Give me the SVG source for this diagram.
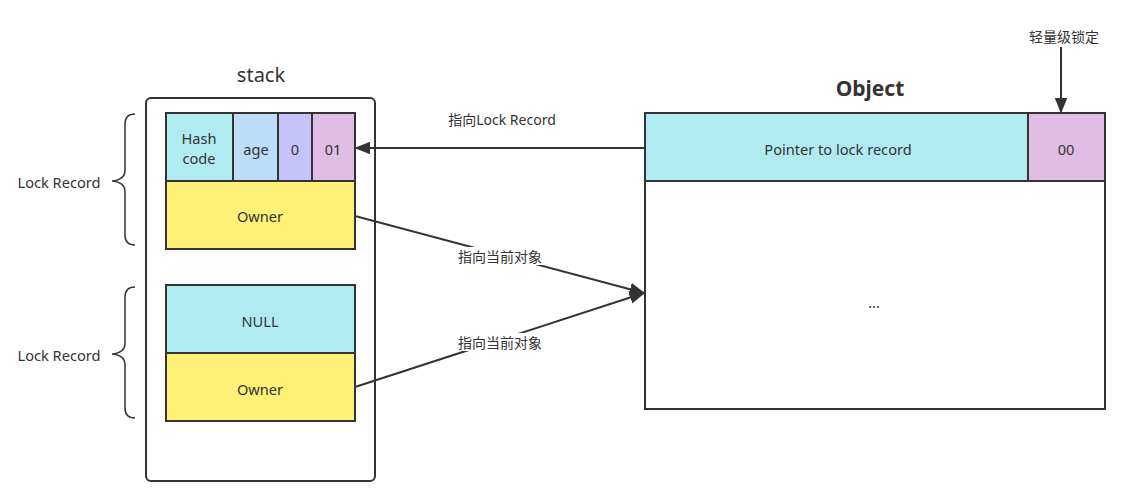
<svg xmlns="http://www.w3.org/2000/svg" width="1137" height="498" viewBox="0 0 1137 498">
<style>
text{font-family:"Noto Sans","Noto Sans CJK SC",sans-serif;fill:#333;font-size:14.6px;text-anchor:middle;dominant-baseline:central}
.c{stroke:#333;stroke-width:2}
.cyan{fill:#b1ebf2}.blue{fill:#bcdcf8}.lav{fill:#c5c3fa}.pink{fill:#e1bde5}.yel{fill:#fff077}
.ln{stroke:#333;stroke-width:2;fill:none}
.lbl{font-size:14px}
</style>
<defs>
<marker id="ah" viewBox="0 0 10 10" refX="9" refY="5" markerWidth="8" markerHeight="8" orient="auto" markerUnits="strokeWidth">
<path d="M0,1 L10,5 L0,9 Z" fill="#333"/>
</marker>
</defs>
<rect width="1137" height="498" fill="#fff"/>
<g id="stack">
<rect x="146" y="98" width="229" height="383" rx="5" fill="#fff" stroke="#333" stroke-width="2"/>
<text x="261" y="74" style="font-size:20px">stack</text>
</g>
<g id="record1">
<rect class="c cyan" x="166" y="113" width="67" height="68"/>
<text x="199" y="138">Hash</text><text x="199" y="158">code</text>
<rect class="c blue" x="233" y="113" width="45" height="68"/>
<text x="256" y="149">age</text>
<rect class="c lav" x="278" y="113" width="34" height="68"/>
<text x="295" y="149">0</text>
<rect class="c pink" x="312" y="113" width="43" height="68"/>
<text x="333" y="149">01</text>
<rect class="c yel" x="166" y="181" width="189" height="68"/>
<text x="260" y="216">Owner</text>
</g>
<g id="record2">
<rect class="c cyan" x="166" y="285" width="189" height="68"/>
<text x="260" y="321">NULL</text>
<rect class="c yel" x="166" y="353" width="189" height="68"/>
<text x="260" y="389">Owner</text>
</g>
<g id="brace1">
<path class="ln" style="stroke-width:1.5" d="M135,114 Q125,114 125,124 L125,170 Q125,180 112,181 Q125,182 125,192 L125,235 Q125,245 135,245"/>
<text x="59" y="182">Lock Record</text>
</g>
<g id="brace2">
<path class="ln" style="stroke-width:1.5" d="M135,287 Q125,287 125,297 L125,343 Q125,353 112,354 Q125,355 125,365 L125,408 Q125,418 135,418"/>
<text x="59" y="355">Lock Record</text>
</g>
<g id="object">
<text x="870" y="88" style="font-size:21px;font-weight:bold">Object</text>
<rect x="645" y="181" width="460" height="228" fill="#fff" stroke="#333" stroke-width="2"/>
<rect class="c cyan" x="645" y="113" width="383" height="68"/>
<text x="838" y="149">Pointer to lock record</text>
<rect class="c pink" x="1028" y="113" width="77" height="68"/>
<text x="1066" y="149">00</text>
<text x="874" y="302">...</text>
</g>
<g id="lock-label">
<text x="1064" y="36" class="lbl">轻量级锁定</text>
</g>
<g id="connectors">
<line class="ln" x1="1061" y1="47" x2="1061" y2="112" marker-end="url(#ah)"/>
<line class="ln" x1="645" y1="148" x2="356" y2="148" marker-end="url(#ah)"/>
<text x="502" y="119" class="lbl">指向Lock Record</text>
<line class="ln" x1="355" y1="216" x2="644" y2="293" marker-end="url(#ah)"/>
<line class="ln" x1="355" y1="387" x2="644" y2="293" marker-end="url(#ah)"/>
<rect x="456" y="247" width="88" height="18" fill="#fff"/>
<text x="500" y="256" class="lbl">指向当前对象</text>
<rect x="456" y="333" width="88" height="18" fill="#fff"/>
<text x="500" y="342" class="lbl">指向当前对象</text>
</g>
</svg>
